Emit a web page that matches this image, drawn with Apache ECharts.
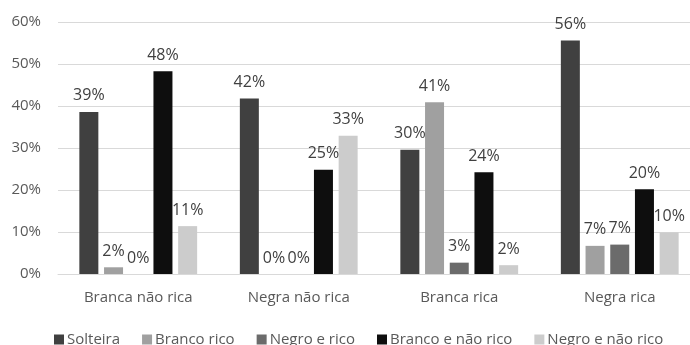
<!DOCTYPE html>
<html>
<head>
<meta charset="utf-8">
<script src="https://cdn.jsdelivr.net/npm/echarts@6/dist/echarts.min.js"></script>
<style>
  html, body { margin: 0; padding: 0; background: #ffffff; overflow: hidden; }
  #chart { width: 702px; height: 345px; }
</style>
</head>
<body>
<div id="chart"></div>
<script>
// Categories (x axis) and series names
const categories = ['Branca não rica', 'Negra não rica', 'Branca rica', 'Negra rica'];
const seriesNames = ['Solteira', 'Branco rico', 'Negro e rico', 'Branco e não rico', 'Negro e não rico'];

// Shares (%) per category for each series
const solteira = [38.6, 41.8, 29.6, 55.6];
const brancoRico = [1.6, 0, 40.9, 6.7];
const negroERico = [0, 0, 2.7, 7.0];
const brancoENaoRico = [48.3, 24.8, 24.2, 20.2];
const negroENaoRico = [11.4, 32.9, 2.1, 9.9];

// Y axis ticks
const yTicks = [0, 10, 20, 30, 40, 50, 60];

const seriesValues = [solteira, brancoRico, negroERico, brancoENaoRico, negroENaoRico];
const colors = ['#404040', '#a0a0a0', '#6b6b6b', '#0e0e0e', '#cccccc'];

const FONT = '"Open Sans", sans-serif';

const chart = echarts.init(document.getElementById('chart'), null, { renderer: 'canvas' });

chart.setOption({
  animation: false,
  backgroundColor: '#ffffff',
  textStyle: { fontFamily: FONT },
  // the plot runs slightly past the visible right edge
  grid: { left: 58, top: 22, width: 642, height: 252, containLabel: false },
  legend: {
    left: 49,
    top: 327,
    itemWidth: 10,
    itemHeight: 10,
    itemGap: 22,
    icon: 'rect',
    textStyle: { fontFamily: FONT, fontSize: 15, color: '#595959', padding: [0, 0, 0, -2] },
    data: seriesNames
  },
  xAxis: {
    type: 'category',
    data: categories,
    axisLine: { show: true, lineStyle: { color: '#d9d9d9', width: 1 } },
    axisTick: { show: false },
    axisLabel: { fontFamily: FONT, fontSize: 15, color: '#595959', margin: 16 }
  },
  yAxis: {
    type: 'value',
    min: yTicks[0],
    max: yTicks[yTicks.length - 1],
    interval: 10,
    axisLine: { show: false },
    axisTick: { show: false },
    splitLine: { lineStyle: { color: '#d9d9d9', width: 1 } },
    axisLabel: {
      fontFamily: FONT, fontSize: 15, color: '#595959', margin: 17,
      formatter: v => v + '%'
    }
  },
  series: seriesNames.map((name, i) => ({
    name: name,
    type: 'bar',
    data: seriesValues[i],
    barWidth: 19,
    barGap: '30%',
    itemStyle: { color: colors[i] },
    label: {
      show: true,
      position: 'top',
      distance: 8,
      fontFamily: FONT,
      fontSize: 16,
      color: '#404040',
      formatter: p => Math.round(p.value) + '%'
    }
  }))
});
</script>
</body>
</html>
